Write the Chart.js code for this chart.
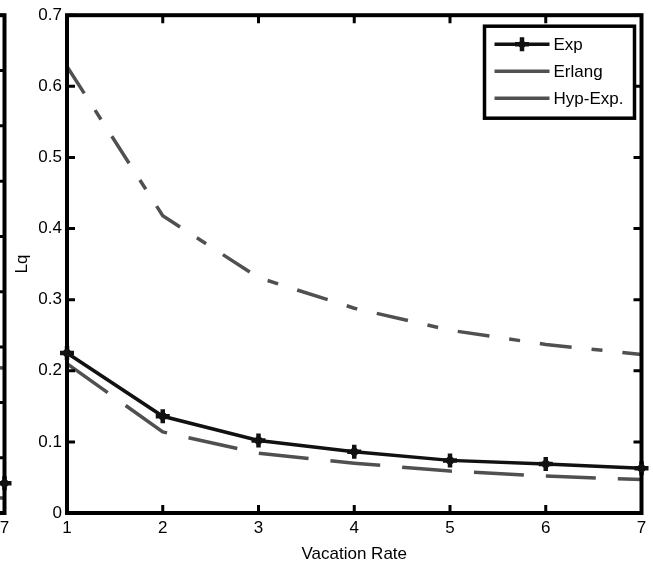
<!DOCTYPE html>
<html>
<head>
<meta charset="utf-8">
<script src="https://cdn.jsdelivr.net/npm/chart.js@4.4.1/dist/chart.umd.min.js"></script>
<style>
  html, body { margin: 0; padding: 0; background: #fff; }
  #wrap { position: relative; width: 653px; height: 571px; overflow: hidden; }
  .box { position: absolute; top: 0; width: 653px; height: 571px; }
  #mainBox { left: 0; }
  #prevBox { left: -637px; }
</style>
</head>
<body>
<div id="wrap">
  <div class="box" id="prevBox"><canvas id="prev"></canvas></div>
  <div class="box" id="mainBox"><canvas id="main"></canvas></div>
</div>
<script>
// vacation rate on the x axis, Lq on the y axis
const rates = [1, 2, 3, 4, 5, 6, 7];
const lqExp = [0.225, 0.136, 0.102, 0.086, 0.074, 0.069, 0.063];
const lqErlang = [0.210, 0.114, 0.084, 0.070, 0.059, 0.052, 0.047];
const lqHypExp = [0.628, 0.418, 0.331, 0.288, 0.257, 0.237, 0.223];
const seriesNames = ["Exp", "Erlang", "Hyp-Exp."];
const xTickLabels = ["1", "2", "3", "4", "5", "6", "7"];
const yTickLabels = ["0", "0.1", "0.2", "0.3", "0.4", "0.5", "0.6", "0.7"];

// neighbouring panel, only its right edge shows
const prevExp = [null, null, null, null, null, 0.058, 0.054];
const prevErlang = [null, null, null, null, null, 0.030, 0.027];
const prevHypExp = [null, null, null, null, null, 0.270, 0.262];
const prevTickLabels = ["0", "0.1", "0.2", "0.3", "0.4", "0.5", "0.6", "0.7", "0.8", "0.9"];

const FONT = "'Liberation Sans', Arial, Helvetica, sans-serif";
const FSIZE = 17;
const GREY = "#505050";

function pts(ys) {
  return rates.map((x, i) => ({ x: x, y: ys[i] }));
}

// MATLAB style box with inward ticks on all four sides
const boxFrame = {
  id: "boxFrame",
  afterDatasetsDraw(chart) {
    const { ctx, chartArea: a, scales: { x, y } } = chart;
    ctx.save();
    ctx.strokeStyle = "#000";
    ctx.lineWidth = 3;
    ctx.lineCap = "butt";
    const tl = 8;
    ctx.beginPath();
    x.ticks.forEach(t => {
      const px = x.getPixelForValue(t.value);
      ctx.moveTo(px, a.bottom); ctx.lineTo(px, a.bottom - tl);
      ctx.moveTo(px, a.top); ctx.lineTo(px, a.top + tl);
    });
    y.ticks.forEach(t => {
      const py = y.getPixelForValue(t.value);
      ctx.moveTo(a.left, py); ctx.lineTo(a.left + tl, py);
      ctx.moveTo(a.right, py); ctx.lineTo(a.right - tl, py);
    });
    ctx.stroke();
    ctx.lineWidth = 4;
    ctx.strokeRect(a.left, a.top, a.right - a.left, a.bottom - a.top);
    ctx.restore();
  }
};

// boxed legend in the upper right corner
const boxLegend = {
  id: "boxLegend",
  afterDraw(chart) {
    if (!chart.options.plugins.boxLegend || !chart.options.plugins.boxLegend.show) return;
    const { ctx, chartArea: a } = chart;
    const w = 150, h = 92;
    const left = a.right - 7 - w, top = a.top + 11;
    ctx.save();
    ctx.fillStyle = "#fff";
    ctx.fillRect(left, top, w, h);
    ctx.lineWidth = 3.5;
    ctx.strokeStyle = "#000";
    ctx.strokeRect(left, top, w, h);
    ctx.font = FSIZE + "px " + FONT;
    ctx.textBaseline = "middle";
    chart.data.datasets.forEach((ds, i) => {
      const cy = top + 18 + i * 27;
      const x0 = left + 10, x1 = left + 65;
      ctx.beginPath();
      ctx.setLineDash([]);
      ctx.strokeStyle = ds.borderColor;
      ctx.lineWidth = ds.borderWidth;
      ctx.moveTo(x0, cy); ctx.lineTo(x1, cy);
      ctx.stroke();
      if (ds.pointRadius > 0) {
        const mx = (x0 + x1) / 2, r = ds.pointRadius;
        ctx.lineWidth = ds.pointBorderWidth;
        ctx.beginPath();
        ctx.moveTo(mx - r, cy); ctx.lineTo(mx + r, cy);
        ctx.moveTo(mx, cy - r); ctx.lineTo(mx, cy + r);
        ctx.stroke();
        ctx.fillStyle = ds.pointBackgroundColor;
        ctx.beginPath();
        ctx.arc(mx, cy, 3.5, 0, Math.PI * 2);
        ctx.fill();
      }
      ctx.fillStyle = "#000";
      ctx.fillText(ds.label, x1 + 4, cy + 1);
    });
    ctx.restore();
  }
};

// small solid core under each cross marker, like the blotted plus signs
const markerCore = {
  id: "markerCore",
  afterDatasetsDraw(chart) {
    const { ctx } = chart;
    chart.data.datasets.forEach((ds, i) => {
      if (!(ds.pointRadius > 0)) return;
      const meta = chart.getDatasetMeta(i);
      ctx.save();
      ctx.fillStyle = ds.pointBackgroundColor;
      meta.data.forEach(p => {
        if (p.skip) return;
        ctx.beginPath();
        ctx.arc(p.x, p.y, 4, 0, Math.PI * 2);
        ctx.fill();
      });
      ctx.restore();
    });
  }
};

function makeDatasets(e, er, h) {
  return [
    {
      label: seriesNames[0], data: pts(e),
      borderColor: "#111", borderWidth: 3.5,
      pointStyle: "cross", pointRadius: 7, pointBorderWidth: 4.5,
      pointBorderColor: "#111", pointBackgroundColor: "#111",
      clip: false
    },
    {
      label: seriesNames[1], data: pts(er),
      borderColor: GREY, borderWidth: 3.5, borderDash: [50, 22],
      pointRadius: 0
    },
    {
      label: seriesNames[2], data: pts(h),
      borderColor: GREY, borderWidth: 3.5, borderDash: [32, 20, 11, 20],
      pointRadius: 0
    }
  ];
}

function makeOptions(yMax, yLabels, legend) {
  return {
    responsive: true,
    maintainAspectRatio: false,
    animation: false,
    spanGaps: false,
    layout: { padding: { left: 0, right: 11, top: 14, bottom: 0 } },
    plugins: {
      legend: { display: false },
      tooltip: { enabled: false },
      boxLegend: { show: legend }
    },
    scales: {
      x: {
        type: "linear", min: 1, max: 7,
        grid: { display: false, drawTicks: false },
        border: { display: false },
        ticks: {
          stepSize: 1, padding: 5, color: "#000",
          font: { family: FONT, size: FSIZE },
          callback: v => xTickLabels[v - 1]
        },
        title: {
          display: true, text: "Vacation Rate", color: "#000",
          font: { family: FONT, size: FSIZE }, padding: { top: 0, bottom: 6 }
        },
        afterFit: s => { s.height = 58; }
      },
      y: {
        type: "linear", min: 0, max: yMax,
        grid: { display: false, drawTicks: false },
        border: { display: false },
        ticks: {
          stepSize: 0.1, padding: 5, color: "#000",
          font: { family: FONT, size: FSIZE },
          callback: v => yLabels[Math.round(v * 10)]
        },
        title: {
          display: true, text: "Lq", color: "#000",
          font: { family: FONT, size: FSIZE }, padding: { top: 12, bottom: 0 }
        },
        afterFit: s => { s.width = 67; }
      }
    }
  };
}

new Chart(document.getElementById("prev"), {
  type: "line",
  data: { datasets: makeDatasets(prevExp, prevErlang, prevHypExp) },
  options: makeOptions(0.9, prevTickLabels, false),
  plugins: [boxFrame, markerCore, boxLegend]
});

new Chart(document.getElementById("main"), {
  type: "line",
  data: { datasets: makeDatasets(lqExp, lqErlang, lqHypExp) },
  options: makeOptions(0.7, yTickLabels, true),
  plugins: [boxFrame, markerCore, boxLegend]
});
</script>
</body>
</html>
